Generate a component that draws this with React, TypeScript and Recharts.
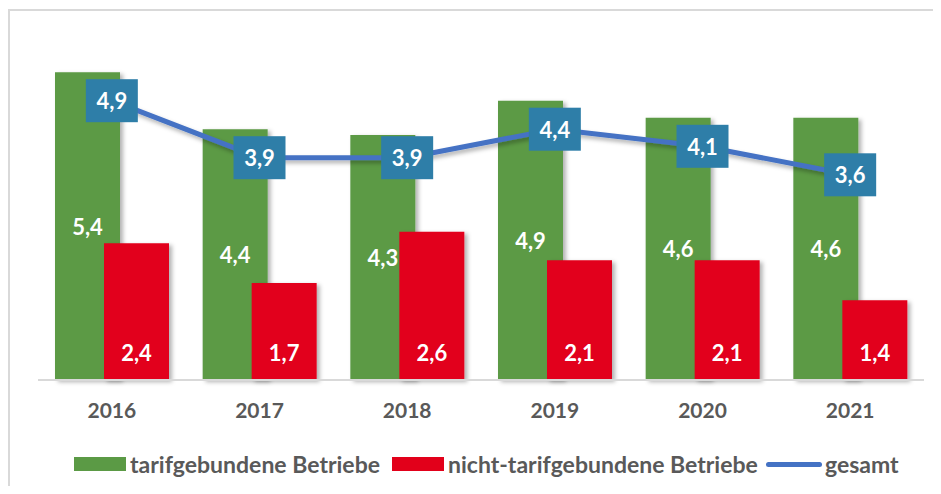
import React from 'react';
import { ComposedChart, Bar, Line, XAxis, YAxis, LabelList, Rectangle } from 'recharts';

const years = ['2016', '2017', '2018', '2019', '2020', '2021'];
const tarifgebunden = [5.4, 4.4, 4.3, 4.9, 4.6, 4.6];
const nichtTarifgebunden = [2.4, 1.7, 2.6, 2.1, 2.1, 1.4];
const gesamt = [4.9, 3.9, 3.9, 4.4, 4.1, 3.6];
const seriesNames = ['tarifgebundene Betriebe', 'nicht-tarifgebundene Betriebe', 'gesamt'];

const GREEN = '#5B9A45';
const RED = '#E2001A';
const BLUE = '#4472C4';
const BOX = '#2E7EA8';
const FONT = 'Lato, sans-serif';

const data = years.map((y, i) => ({
  year: y,
  tarif: tarifgebunden[i],
  nicht: nichtTarifgebunden[i],
  gesamt: gesamt[i],
}));

const fmt = (v: any) => Number(v).toFixed(1).replace('.', ',');

const GreenLabel = (p: any) => {
  const { x, y, width, height, value } = p;
  return (
    <text x={x + width / 2} y={y + height / 2} fill="#fff" fontFamily={FONT} fontWeight={700} fontSize={22}
      textAnchor="middle" dominantBaseline="central">{fmt(value)}</text>
  );
};

const RedLabel = (p: any) => {
  const { x, y, width, height, value } = p;
  return (
    <text x={x + width / 2} y={y + height - 28} fill="#fff" fontFamily={FONT} fontWeight={700} fontSize={22}
      textAnchor="middle" dominantBaseline="central">{fmt(value)}</text>
  );
};

const BoxLabel = (p: any) => {
  const { x, y, value } = p;
  return (
    <g>
      <rect x={x - 26} y={y - 21.5} width={52} height={43} fill={BOX} />
      <text x={x} y={y} fill="#fff" fontFamily={FONT} fontWeight={700} fontSize={22}
        textAnchor="middle" dominantBaseline="central">{fmt(value)}</text>
    </g>
  );
};

const ShadowRect = (props: any) => <Rectangle {...props} filter="url(#barShadow)" />;

export default function App() {
  return (
    <div style={{ position: 'relative', width: 925, height: 477, marginTop: 1, borderLeft: '2px solid #d9d9d9', borderTop: '2px solid #d9d9d9', boxSizing: 'border-box', overflow: 'visible' }}>
      <div style={{ position: 'absolute', left: -2, top: -3, width: 925, height: 480 }}>
        <ComposedChart width={925} height={480} data={data} margin={{ top: 30, left: 30, right: 9, bottom: 78 }}
          barGap={-16} barSize={65}>
          <defs>
            <filter id="barShadow" x="-20%" y="-20%" width="150%" height="150%">
              <feDropShadow dx="3" dy="2" stdDeviation="2" floodColor="#000" floodOpacity="0.3" />
            </filter>
            <filter id="lineShadow" x="-5%" y="-50%" width="110%" height="200%">
              <feDropShadow dx="2" dy="3" stdDeviation="2" floodColor="#000" floodOpacity="0.3" />
            </filter>
          </defs>
          <XAxis dataKey="year" axisLine={{ stroke: '#d9d9d9', strokeWidth: 2 }} tickLine={false} tickMargin={17}
            tick={{ fill: '#595959', fontFamily: FONT, fontWeight: 700, fontSize: 21 }} />
          <YAxis hide domain={[0, 6]} />
          <Bar dataKey="tarif" name={seriesNames[0]} fill={GREEN} isAnimationActive={false} shape={ShadowRect}>
            <LabelList dataKey="tarif" content={GreenLabel} />
          </Bar>
          <Bar dataKey="nicht" name={seriesNames[1]} fill={RED} isAnimationActive={false} shape={ShadowRect}>
            <LabelList dataKey="nicht" content={RedLabel} />
          </Bar>
          <Line dataKey="gesamt" name={seriesNames[2]} stroke={BLUE} strokeWidth={5} dot={false} isAnimationActive={false}
            style={{ filter: 'url(#lineShadow)' }}>
            <LabelList dataKey="gesamt" content={BoxLabel} />
          </Line>
        </ComposedChart>
      </div>
      <div style={{ position: 'absolute', left: 923, top: -2, width: 8, height: 2, background: '#d9d9d9' }} />
      {[
        { left: 74, color: GREEN, kind: 'bar', name: seriesNames[0] },
        { left: 392, color: RED, kind: 'bar', name: seriesNames[1] },
        { left: 766, color: BLUE, kind: 'line', name: seriesNames[2] },
      ].map((it) => (
        <div key={it.name} style={{ position: 'absolute', left: it.left - 10, top: 464 - 11 - 14, height: 28, display: 'flex', alignItems: 'center',
          fontFamily: FONT, fontWeight: 700, fontSize: 23, color: '#595959', whiteSpace: 'nowrap' }}>
          {it.kind === 'bar'
            ? <div style={{ width: 52, height: 14, background: it.color, marginRight: 4 }} />
            : <div style={{ width: 56, height: 5, borderRadius: 3, background: it.color, marginRight: 3 }} />}
          <span>{it.name}</span>
        </div>
      ))}
    </div>
  );
}
